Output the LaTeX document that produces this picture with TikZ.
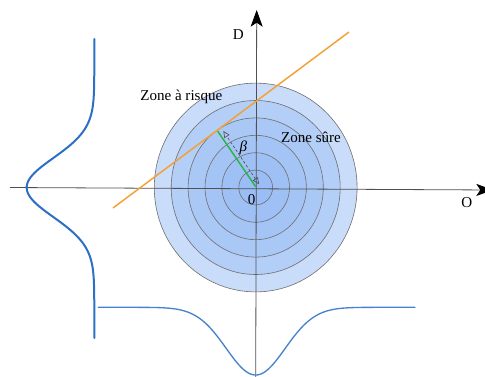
\documentclass[tikz,border=0pt]{standalone}
\usepackage{fontspec}
\setmainfont{Liberation Serif}
\usetikzlibrary{arrows.meta}
\definecolor{ringA}{HTML}{C9DCF9}
\definecolor{ringB}{HTML}{B3CEF7}
\definecolor{ringC}{HTML}{AAC8F6}
\definecolor{ringD}{HTML}{A4C4F5}
\definecolor{ringE}{HTML}{9EC0F5}
\definecolor{ringF}{HTML}{99BDF4}
\definecolor{ringline}{HTML}{6E6E6E}
\definecolor{axisgray}{HTML}{505050}
\definecolor{orangeline}{HTML}{F4A035}
\definecolor{greenline}{HTML}{2DB34A}
\definecolor{gaussL}{HTML}{2B70C4}
\definecolor{gaussB}{HTML}{4682CF}
\begin{document}
\begin{tikzpicture}[x=0.75pt,y=-0.75pt,
  ring/.style={draw=ringline,line width=0.45pt},
  axisline/.style={draw=axisgray,line width=0.6pt},
  lbl/.style={inner sep=0pt,font=\fontsize{11.3}{13}\selectfont},
  gausscurve/.style={line cap=round}]
\useasboundingbox (0,0) rectangle (485,376);
\clip (0,0) rectangle (485,376);
\coordinate (c) at (255.7,187.5);
% rings
\foreach \k/\col in {6/ringA,5/ringB,4/ringC,3/ringD,2/ringE,1/ringF}{
  \path[ring,fill=\col] (c) ellipse [x radius=\k*12.675pt, y radius=\k*13.05pt];
}
% axes
\coordinate (xl) at (10,187.5);
\coordinate (xr) at (493,190);
\coordinate (yb) at (255.7,380);
\coordinate (yt) at (256.7,10);
\draw[axisline,-{Stealth[length=12.5pt,width=9pt,inset=3pt]},arrows={[color=black]}] (xl) -- (xr);
\draw[axisline,-{Stealth[length=12.5pt,width=9pt,inset=3pt]},arrows={[color=black]}] (yb) -- (yt);
% orange line
\coordinate (o1) at (113,208);
\coordinate (o2) at (349,32);
\draw[orangeline,line width=1.1pt] (o1) -- (o2);
% green line and dashed arrow
\coordinate (g1) at (255.7,186.7);
\coordinate (g2) at (217.7,131.2);
\draw[greenline,line width=1.1pt] (g1) -- (g2);
\coordinate (d1) at (223.3,131);
\coordinate (d2) at (259,184.3);
\draw[axisgray,line width=0.5pt,dash pattern=on 2pt off 1.5pt,
  {Triangle[open,length=5pt,width=4.5pt]}-{Triangle[open,length=5pt,width=4.5pt]}] (d2) -- (d1);
% gaussians
\draw[gaussL,line width=1.5pt,gausscurve] plot[domain=39:338,samples=200,smooth]
  ({94.3-67.6*exp(-0.5*((\x-187.5)/29.5)^2)},\x);
\draw[gaussB,line width=1pt,gausscurve] plot[domain=98.3:415,samples=200,smooth]
  (\x,{307.3+67.7*exp(-0.5*((\x-255.7)/29.5)^2)});
% labels
\node[lbl] (lD) at (238.3,35) {D};
\node[lbl] (lO) at (466.7,202.5) {O};
\node[lbl] (lZero) at (251.7,200) {0};
\node[lbl] (lRisk) at (181.3,97) {Zone à risque};
\node[lbl] (lSafe) at (311,137) {Zone sûre};
\node[lbl] (lBeta) at (243.3,148) {\itshape β};
\end{tikzpicture}
\end{document}
